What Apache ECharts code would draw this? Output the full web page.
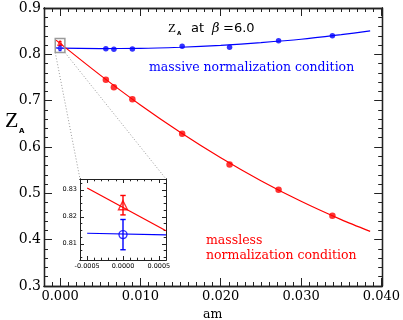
<!DOCTYPE html>
<html><head><meta charset="utf-8">
<script src="https://cdn.jsdelivr.net/npm/echarts@6/dist/echarts.min.js"></script>
<style>html,body{margin:0;padding:0;background:#fff}#c{width:403px;height:320px}</style>
</head><body><div id="c"></div>
<script>
// ---- data ----
const amValues      = [0.0057, 0.0067, 0.0090, 0.0152, 0.0211, 0.0272, 0.0339];
const zaMassive     = [0.8121, 0.8112, 0.8114, 0.8173, 0.8151, 0.8294, 0.8402];
const zaMassless    = [0.7451, 0.7287, 0.7028, 0.6285, 0.5624, 0.5076, 0.4514];
const fitAm         = [-0.0005, 0, 0.005, 0.010, 0.015, 0.020, 0.025, 0.030, 0.035, 0.0386];
const fitMassive    = [0.8139, 0.8134, 0.8125, 0.8128, 0.8153, 0.8194, 0.8253, 0.8325, 0.8425, 0.8505];
const fitMassless   = [0.8307, 0.8236, 0.7551, 0.6907, 0.6313, 0.5768, 0.5273, 0.4828, 0.4432, 0.4178];
const chiralAm      = [0];
const chiralMassive = [0.8134];
const chiralMassiveErr = [0.0056];
const chiralMassless = [0.8243];
const chiralMasslessErr = [0.0036];
const insetFitAm       = [-0.0005, 0.0006];
const insetFitMassive  = [0.8139, 0.8133];
const insetFitMassless = [0.8307, 0.8148];
const xTicks = [0, 0.01, 0.02, 0.03, 0.04];
const yTicks = [0.3, 0.4, 0.5, 0.6, 0.7, 0.8, 0.9];
const insetXTicks = [-0.0005, 0, 0.0005];
const insetYTicks = [0.81, 0.82, 0.83];
const mainX = [-0.002, 0.0401], mainY = [0.3, 0.9];
const insetX = [-0.0006, 0.0006], insetY = [0.804, 0.834];

// minor tick positions
function steps(a, b, st, excl) {
  const out = [];
  for (let v = a; v <= b + st * 0.01; v += st) {
    const r = Math.round(v / st) * st;
    if (!excl.some(e => Math.abs(e - r) < st * 0.01)) out.push(+r.toFixed(6));
  }
  return out;
}
const xMinor = steps(-0.001, 0.040, 0.001, xTicks);
const yMinor = steps(0.32, 0.88, 0.02, yTicks);
const insetXMinor = steps(-0.0006, 0.0006, 0.0001, insetXTicks);
const insetYMinor = steps(0.805, 0.8325, 0.0025, insetYTicks);

const SERIF = 'DejaVu Serif', SANS = 'DejaVu Sans';
const BLUE = '#0000ff', RED = '#ff0000';

function axis(grid, pos, range, ticks, len, lw, label) {
  return {
    type: 'value', gridIndex: grid, position: pos, min: range[0], max: range[1],
    axisLine: {show: true, onZero: false, lineStyle: {color: '#222', width: lw}},
    axisTick: {show: true, inside: true, length: len, customValues: ticks, lineStyle: {color: '#222', width: 1}},
    axisLabel: label || {show: false},
    splitLine: {show: false}
  };
}
const xAxes = [
  axis(0, 'bottom', mainX, xTicks, 8, 1.3, {show: true, customValues: xTicks, formatter: v => (+v).toFixed(3),
    fontFamily: SERIF, fontSize: 13, color: '#000', margin: 4}),
  axis(0, 'bottom', mainX, xMinor, 4, 1.3),
  axis(0, 'top', mainX, xTicks, 8, 1.3),
  axis(0, 'top', mainX, xMinor, 4, 1.3),
  axis(1, 'bottom', insetX, insetXTicks, 4, 1, {show: true, customValues: insetXTicks, formatter: v => (+v).toFixed(4),
    fontFamily: SANS, fontSize: 6.5, color: '#000', margin: 3}),
  axis(1, 'bottom', insetX, insetXMinor, 2.3, 1),
  axis(1, 'top', insetX, insetXTicks, 4, 1),
  axis(1, 'top', insetX, insetXMinor, 2.3, 1)
];
const yAxes = [
  axis(0, 'left', mainY, yTicks, 8, 1.3, {show: true, customValues: yTicks, formatter: v => (+v).toFixed(1),
    fontFamily: SERIF, fontSize: 14, color: '#000', margin: 3}),
  axis(0, 'left', mainY, yMinor, 4, 1.3),
  axis(0, 'right', mainY, yTicks, 8, 1.3),
  axis(0, 'right', mainY, yMinor, 4, 1.3),
  axis(1, 'left', insetY, insetYTicks, 4, 1, {show: true, customValues: insetYTicks, formatter: v => (+v).toFixed(2),
    fontFamily: SANS, fontSize: 6.5, color: '#000', margin: 3}),
  axis(1, 'left', insetY, insetYMinor, 2.3, 1),
  axis(1, 'right', insetY, insetYTicks, 4, 1),
  axis(1, 'right', insetY, insetYMinor, 2.3, 1)
];

function errRender(cap, color, lw) {
  return function (params, api) {
    const x = api.value(0);
    const a = api.coord([x, api.value(1)]), b = api.coord([x, api.value(2)]);
    const st = {stroke: color, lineWidth: lw};
    return {type: 'group', children: [
      {type: 'line', shape: {x1: a[0], y1: a[1], x2: b[0], y2: b[1]}, style: st},
      {type: 'line', shape: {x1: a[0] - cap, y1: a[1], x2: a[0] + cap, y2: a[1]}, style: st},
      {type: 'line', shape: {x1: b[0] - cap, y1: b[1], x2: b[0] + cap, y2: b[1]}, style: st}
    ]};
  };
}
const pairs = (xs, ys) => xs.map((x, i) => [x, ys[i]]);
const errData = (xs, ys, es) => xs.map((x, i) => [x, ys[i] - es[i], ys[i] + es[i]]);

const series = [
  {type: 'line', xAxisIndex: 0, yAxisIndex: 0, data: pairs(fitAm, fitMassive), smooth: 0.3,
   showSymbol: false, symbol: 'none', lineStyle: {color: BLUE, width: 1.2}, z: 2},
  {type: 'line', xAxisIndex: 0, yAxisIndex: 0, data: pairs(fitAm, fitMassless), smooth: 0.3,
   showSymbol: false, symbol: 'none', lineStyle: {color: RED, width: 1.2}, z: 2},
  {type: 'scatter', xAxisIndex: 0, yAxisIndex: 0, data: pairs(amValues, zaMassive), symbol: 'circle', symbolSize: 5.5,
   itemStyle: {color: BLUE}, z: 3},
  {type: 'scatter', xAxisIndex: 0, yAxisIndex: 0, data: pairs(amValues, zaMassless), symbol: 'circle', symbolSize: 6.5,
   itemStyle: {color: RED}, z: 3},
  {type: 'custom', xAxisIndex: 0, yAxisIndex: 0, data: errData(chiralAm, chiralMassless, chiralMasslessErr),
   renderItem: errRender(1.5, RED, 1), encode: {x: 0, y: [1, 2]}, z: 4},
  {type: 'custom', xAxisIndex: 0, yAxisIndex: 0, data: errData(chiralAm, chiralMassive, chiralMassiveErr),
   renderItem: errRender(1.5, BLUE, 1), encode: {x: 0, y: [1, 2]}, z: 4},
  {type: 'scatter', xAxisIndex: 0, yAxisIndex: 0, data: pairs(chiralAm, chiralMassless), symbol: 'triangle', symbolSize: 5,
   itemStyle: {color: 'rgba(0,0,0,0)', borderColor: RED, borderWidth: 1}, z: 4},
  {type: 'scatter', xAxisIndex: 0, yAxisIndex: 0, data: pairs(chiralAm, chiralMassive), symbol: 'circle', symbolSize: 4,
   itemStyle: {color: 'rgba(0,0,0,0)', borderColor: BLUE, borderWidth: 1}, z: 4},
  // inset
  {type: 'line', xAxisIndex: 4, yAxisIndex: 4, data: pairs(insetFitAm, insetFitMassive), showSymbol: false, symbol: 'none',
   lineStyle: {color: BLUE, width: 1.2}, z: 5},
  {type: 'line', xAxisIndex: 4, yAxisIndex: 4, data: pairs(insetFitAm, insetFitMassless), showSymbol: false, symbol: 'none',
   lineStyle: {color: RED, width: 1.2}, z: 5},
  {type: 'custom', xAxisIndex: 4, yAxisIndex: 4, data: errData(chiralAm, chiralMassless, chiralMasslessErr),
   renderItem: errRender(2.7, RED, 1.4), encode: {x: 0, y: [1, 2]}, z: 6},
  {type: 'custom', xAxisIndex: 4, yAxisIndex: 4, data: errData(chiralAm, chiralMassive, chiralMassiveErr),
   renderItem: errRender(2.7, BLUE, 1.4), encode: {x: 0, y: [1, 2]}, z: 6},
  {type: 'scatter', xAxisIndex: 4, yAxisIndex: 4, data: pairs(chiralAm, chiralMassless), symbol: 'triangle', symbolSize: 9,
   itemStyle: {color: 'rgba(0,0,0,0)', borderColor: RED, borderWidth: 1.4}, z: 7},
  {type: 'scatter', xAxisIndex: 4, yAxisIndex: 4, data: pairs(chiralAm, chiralMassive), symbol: 'circle', symbolSize: 8,
   itemStyle: {color: 'rgba(0,0,0,0)', borderColor: BLUE, borderWidth: 1.4}, z: 7}
];

const chart = echarts.init(document.getElementById('c'), null, {renderer: 'canvas'});
chart.setOption({
  animation: false,
  backgroundColor: '#fff',
  grid: [
    {left: 44, top: 8, width: 339, height: 278, show: false},
    {left: 80, top: 179, width: 86, height: 81, show: true, backgroundColor: '#fff', borderWidth: 0}
  ],
  xAxis: xAxes,
  yAxis: yAxes,
  series: series
});

const px = (xi, yi, pt) => chart.convertToPixel({xAxisIndex: xi, yAxisIndex: yi}, pt);
const bl = px(0, 0, [insetX[0], insetY[0]]);
const tr = px(0, 0, [insetX[1], insetY[1]]);
const itl = px(4, 4, [insetX[0], insetY[1]]);
const itr = px(4, 4, [insetX[1], insetY[1]]);

function txt(x, y, s, font, size, color, extra) {
  return {type: 'text', x: x, y: y, z: 20,
    style: Object.assign({text: s, fontFamily: font, fontSize: size, fill: color, align: 'left', verticalAlign: 'middle'}, extra || {})};
}

chart.setOption({
  graphic: [
    {type: 'rect', z: 3, shape: {x: bl[0], y: tr[1], width: tr[0] - bl[0], height: bl[1] - tr[1]},
     style: {fill: 'none', stroke: '#9a9a9a', lineWidth: 1.5}},
    {type: 'line', z: 3, shape: {x1: bl[0], y1: bl[1], x2: itl[0], y2: itl[1]},
     style: {stroke: '#999', lineWidth: 1, lineDash: [1, 2]}},
    {type: 'line', z: 3, shape: {x1: tr[0], y1: bl[1], x2: itr[0], y2: itr[1]},
     style: {stroke: '#999', lineWidth: 1, lineDash: [1, 2]}},
    // title
    txt(168, 29, 'Z', 'Liberation Serif', 13, '#000'),
    txt(177, 33.8, 'A', SANS, 5.5, '#000', {fontWeight: 'bold'}),
    txt(191, 29, 'at', SANS, 13, '#000'),
    txt(212, 29, 'β', SERIF, 13, '#000', {fontStyle: 'italic'}),
    txt(223, 29, '=6.0', SANS, 13, '#000'),
    // annotations
    txt(149, 68, 'massive normalization condition', SERIF, 12.5, BLUE),
    txt(206, 241.2, 'massless', SERIF, 12.5, RED),
    txt(206, 255.5, 'normalization condition', SERIF, 12.5, RED),
    // axis names
    txt(5, 121.5, 'Z', 'Liberation Serif', 22, '#000'),
    txt(19, 131, 'A', SANS, 7, '#000', {fontWeight: 'bold'}),
    txt(203, 314.5, 'am', SERIF, 12.5, '#000')
  ]
});
</script>
</body></html>
